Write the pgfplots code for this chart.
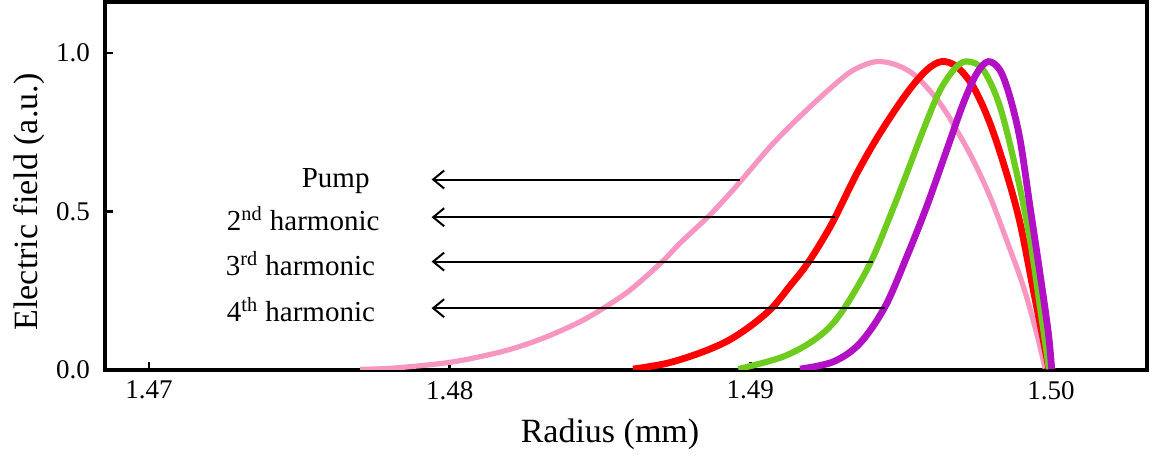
\documentclass[border=0pt]{standalone}
\usepackage{fontspec}
\setmainfont{Liberation Serif}
\usepackage{pgfplots}
\pgfplotsset{compat=1.18}
\usetikzlibrary{arrows.meta}
\definecolor{cpink}{RGB}{247,150,192}
\definecolor{cred}{RGB}{255,0,0}
\definecolor{cgreen}{RGB}{110,204,30}
\definecolor{cpurple}{RGB}{178,16,196}
\begin{document}
\rmfamily
\begin{tikzpicture}[font=\rmfamily]
\begin{axis}[
  scale only axis, width=521pt, height=184pt,
  xmin=1.46854, xmax=1.50319, ymin=0, ymax=1.161,
  axis line style={line width=2pt},
  tick align=inside, tick pos=left,
  major tick length=4pt,
  tick style={line width=1.2pt, black},
  xtick={1.47,1.48,1.49,1.50},
  xticklabels={1.47,1.48,1.49,1.50},
  ytick={0,0.5,1.0},
  yticklabels={0.0,0.5,1.0},
  /pgf/number format/assume math mode=true,
  ticklabel style={font=\rmfamily\fontsize{13.5}{15}\selectfont},
  xticklabel style={yshift=-2pt},
  yticklabel style={xshift=-4pt},
  xlabel={Radius (mm)}, ylabel={Electric field (a.u.)},
  label style={font=\rmfamily\fontsize{17}{20}\selectfont},
  xlabel style={yshift=-3pt, xshift=-8pt},
  ylabel style={yshift=-1pt, xshift=-8pt},
  clip=true,
]
\addplot[color=cpink, line width=2.6pt, smooth, tension=0.55] coordinates {
(1.47702,0.002) (1.47812,0.006) (1.47984,0.022) (1.48101,0.042) (1.48212,0.068)
(1.48323,0.105) (1.48433,0.152) (1.48511,0.195) (1.48600,0.252) (1.48705,0.340)
(1.48766,0.400) (1.48860,0.484) (1.48932,0.557) (1.48976,0.605) (1.49076,0.715)
(1.49187,0.820) (1.49298,0.915) (1.49354,0.952) (1.49420,0.973) (1.49487,0.962)
(1.49553,0.925) (1.49631,0.841) (1.49686,0.757) (1.49741,0.662) (1.49797,0.547)
(1.49852,0.410) (1.49908,0.263) (1.49952,0.116) (1.49980,0.005)
};
\addplot[color=cred, line width=3.4pt, smooth, tension=0.55] coordinates {
(1.48610,0.003) (1.48722,0.021) (1.48830,0.053) (1.48921,0.090) (1.48998,0.137)
(1.49071,0.195) (1.49130,0.263) (1.49193,0.340) (1.49270,0.460) (1.49354,0.620)
(1.49431,0.747) (1.49520,0.873) (1.49586,0.946) (1.49636,0.973) (1.49686,0.957)
(1.49741,0.894) (1.49797,0.778) (1.49852,0.620) (1.49897,0.463) (1.49941,0.252)
(1.49974,0.095) (1.49993,0.003)
};
\addplot[color=cgreen, line width=3.1pt, smooth, tension=0.55] coordinates {
(1.48960,0.003) (1.49109,0.042) (1.49220,0.100) (1.49298,0.175)
(1.49395,0.330) (1.49464,0.484) (1.49520,0.620) (1.49575,0.757) (1.49631,0.883)
(1.49686,0.957) (1.49725,0.973) (1.49775,0.946) (1.49830,0.831) (1.49886,0.620)
(1.49930,0.410) (1.49963,0.200) (1.49993,0.003)
};
\addplot[color=cpurple, line width=3.4pt, smooth, tension=0.55] coordinates {
(1.49165,0.003) (1.49276,0.026) (1.49364,0.084) (1.49448,0.200) (1.49520,0.357)
(1.49586,0.515) (1.49653,0.694) (1.49708,0.841) (1.49753,0.936) (1.49791,0.973)
(1.49830,0.946) (1.49863,0.862) (1.49897,0.726) (1.49930,0.515) (1.49963,0.305)
(1.49991,0.116) (1.50002,0.003)
};
\tikzset{harr/.style={line width=1pt, -{Straight Barb[length=5.5pt,width=9pt,line width=1pt]}}}
\draw[harr] (axis cs:1.48965,0.601) -- (axis cs:1.4794,0.601);
\draw[harr] (axis cs:1.49281,0.482) -- (axis cs:1.4794,0.482);
\draw[harr] (axis cs:1.49407,0.342) -- (axis cs:1.4794,0.342);
\draw[harr] (axis cs:1.49448,0.195) -- (axis cs:1.4794,0.195);
\begin{scope}[every node/.style={anchor=east, inner sep=0pt, font=\rmfamily\fontsize{14.5}{17}\selectfont}]
\node at (axis cs:1.47735,0.596) {Pump};
\node at (axis cs:1.47768,0.477) {2\textsuperscript{nd} harmonic};
\node at (axis cs:1.47753,0.336) {3\textsuperscript{rd} harmonic};
\node at (axis cs:1.47753,0.190) {4\textsuperscript{th} harmonic};
\end{scope}
\end{axis}
\pgfresetboundingbox
\path[use as bounding box] ([shift={(-52.5pt,-42.5pt)}]current axis.south west) rectangle ([shift={(2.5pt,1pt)}]current axis.north east);
\end{tikzpicture}
\end{document}
